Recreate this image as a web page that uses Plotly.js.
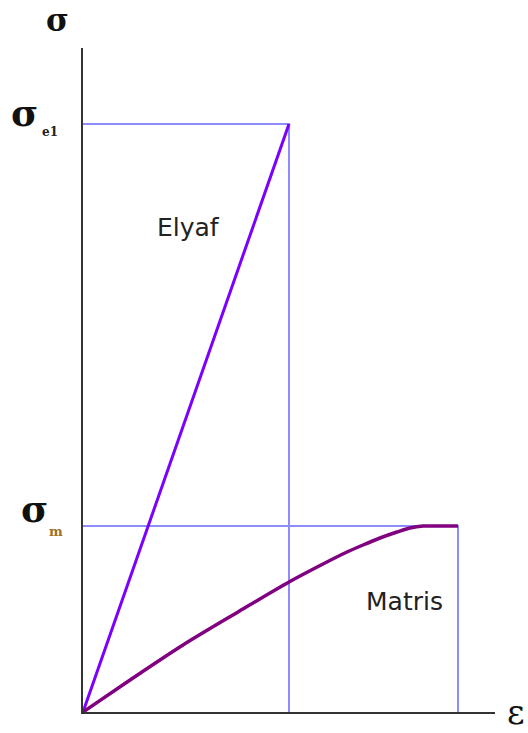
<!DOCTYPE html>
<html>
<head>
<meta charset="utf-8">
<script src="https://cdn.plot.ly/plotly-3.0.1.min.js"></script>
<style>
  html, body { margin: 0; padding: 0; background: #fff; }
  #chart { width: 528px; height: 733px; }
</style>
</head>
<body>
<div id="chart"></div>
<script>
// Stress–strain sketch of fibre (Elyaf) and matrix (Matris)
const elyafStrain = [0, 2.06];
const elyafStress = [0, 5.88];

const matrisStrain = [0, 0.5, 1.0, 1.55, 2.06, 2.40, 2.64, 2.80, 2.97, 3.14, 3.27, 3.40, 3.55, 3.75];
const matrisStress = [0, 0.34, 0.67, 1.00, 1.30, 1.48, 1.60, 1.67, 1.74, 1.80, 1.84, 1.86, 1.86, 1.86];

const strainMax = 4.12;
const stressMax = 6.64;

const sigmaFibre = elyafStress[elyafStress.length - 1];
const sigmaMatrix = matrisStress[matrisStress.length - 1];
const strainFibre = elyafStrain[elyafStrain.length - 1];
const strainMatrix = matrisStrain[matrisStrain.length - 1];

const guide = { color: '#8c8cff', width: 2 };

const traces = [
  // guide lines to the failure points
  { x: [0, strainFibre, strainFibre], y: [sigmaFibre, sigmaFibre, 0],
    mode: 'lines', line: guide, hoverinfo: 'skip' },
  { x: [0, strainMatrix, strainMatrix], y: [sigmaMatrix, sigmaMatrix, 0],
    mode: 'lines', line: guide, hoverinfo: 'skip' },
  // fibre: linear elastic up to rupture
  { x: elyafStrain, y: elyafStress, mode: 'lines',
    line: { color: '#7a00ff', width: 3 } },
  // matrix: nonlinear curve flattening out
  { x: matrisStrain, y: matrisStress, mode: 'lines',
    line: { color: '#800080', width: 3.5, shape: 'spline', smoothing: 0.8 } }
];

const txt = { family: 'DejaVu Sans, Verdana, sans-serif', color: '#222' };
const sym = { family: 'DejaVu Serif, serif', color: '#111', weight: 'bold' };

function symFont(size) { return Object.assign({ size: size }, sym); }

const layout = {
  width: 528, height: 733,
  margin: { l: 83, r: 33, t: 48, b: 21 },
  paper_bgcolor: '#fff', plot_bgcolor: '#fff',
  showlegend: false,
  xaxis: { range: [0, strainMax], showgrid: false, zeroline: false,
           showticklabels: false, ticks: '', showline: true,
           linecolor: '#333', linewidth: 2 },
  yaxis: { range: [0, stressMax], showgrid: false, zeroline: false,
           showticklabels: false, ticks: '', showline: true,
           linecolor: '#333', linewidth: 2 },
  annotations: [
    { text: 'σ', xref: 'paper', yref: 'paper', x: -0.063, y: 1.0723,
      xanchor: 'center', yanchor: 'top', showarrow: false, font: symFont(31) },
    { text: 'ε', xref: 'paper', yref: 'paper', x: 1.051, y: 0,
      xanchor: 'center', yanchor: 'middle', showarrow: false,
      font: { size: 34, family: sym.family, color: '#111' } },
    { text: 'σ', xref: 'paper', x: -0.143, y: 5.99,
      xanchor: 'center', yanchor: 'middle', showarrow: false, font: symFont(37) },
    { text: 'e1', xref: 'paper', x: -0.08, y: 5.80,
      xanchor: 'center', yanchor: 'middle', showarrow: false,
      font: { size: 12, family: 'DejaVu Serif, serif', color: '#222', weight: 'bold' } },
    { text: 'σ', xref: 'paper', x: -0.117, y: 2.03,
      xanchor: 'center', yanchor: 'middle', showarrow: false, font: symFont(37) },
    { text: 'm', xref: 'paper', x: -0.066, y: 1.81,
      xanchor: 'center', yanchor: 'middle', showarrow: false,
      font: { size: 13, color: '#a07020', family: 'DejaVu Serif, serif', weight: 'bold' } },
    { text: 'Elyaf', x: 1.05, y: 4.85, xanchor: 'center', yanchor: 'middle',
      showarrow: false, font: Object.assign({ size: 25 }, txt) },
    { text: 'Matris', x: 3.21, y: 1.11, xanchor: 'center', yanchor: 'middle',
      showarrow: false, font: Object.assign({ size: 25 }, txt) }
  ]
};

Plotly.newPlot('chart', traces, layout, { staticPlot: true, displayModeBar: false });
</script>
</body>
</html>
